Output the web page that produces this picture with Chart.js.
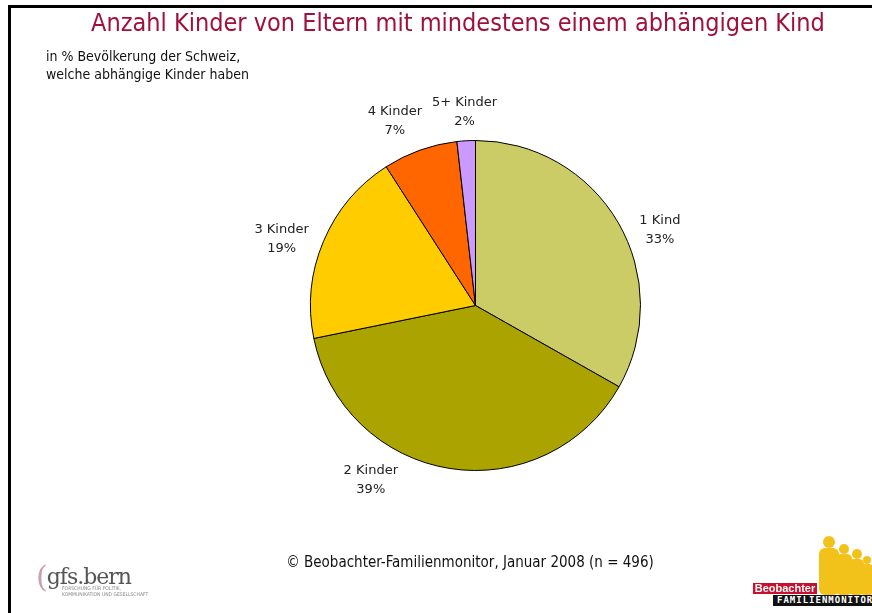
<!DOCTYPE html>
<html>
<head>
<meta charset="utf-8">
<script src="https://cdn.jsdelivr.net/npm/chart.js@4.4.1/dist/chart.umd.min.js"></script>
<style>
    body { margin: 0; width: 872px; height: 613px; overflow: hidden; background: #fff;
           font-family: "Liberation Sans Narrow", "DejaVu Sans Condensed", "Liberation Sans", sans-serif; }
    #frame { position: absolute; left: 8px; top: 5px; width: 900px; height: 700px;
             border-top: 3px solid #000; border-left: 3px solid #000; }
    #chartBox { position: absolute; left: 0; top: 0; width: 872px; height: 613px; }
    .title { position: absolute; left: 0; top: 8px; width: 916px; text-align: center;
             color: #A0103C; font-size: 25px; white-space: nowrap; }
    .sub { position: absolute; left: 46px; font-size: 14px; color: #111; white-space: nowrap; }
    .foot { position: absolute; left: 0; top: 553px; width: 940px; text-align: center; font-size: 15px; color: #111; white-space: nowrap; }
    .gfs { position: absolute; left: 36px; top: 556px; font-family: "DejaVu Serif", "Liberation Serif", serif;
           font-size: 22px; color: #555; letter-spacing: -1px; }
    .gfs .paren { color: #c9a0b0; font-size: 30px; position: relative; top: 3px; }
    .gfs-small { position: absolute; left: 62px; top: 585px; font-size: 5px; color: #888; line-height: 6px; }
    .beo { position: absolute; left: 753px; top: 583px; width: 64px; height: 11px; background: #c8102e;
           color: #fff; font: bold 11px "Liberation Sans", sans-serif; line-height: 11px; text-align: center; }
    .fm { position: absolute; left: 773px; top: 595px; width: 100px; height: 11px; background: #111;
          color: #fff; font: bold 9px "DejaVu Sans Mono", monospace; line-height: 11px; letter-spacing: 1px; padding-left: 4px; }
</style>
</head>
<body>
<div id="frame"></div>
<div id="chartBox"><canvas id="pieChart"></canvas></div>
<div class="title">Anzahl Kinder von Eltern mit mindestens einem abhängigen Kind</div>
<div class="sub" style="top:48px">in % Bevölkerung der Schweiz,</div>
<div class="sub" style="top:66px">welche abhängige Kinder haben</div>
<div class="foot">© Beobachter-Familienmonitor, Januar 2008 (n = 496)</div>
<div class="gfs"><span class="paren">(</span>gfs.bern</div>
<div class="gfs-small">FORSCHUNG FÜR POLITIK,<br>KOMMUNIKATION UND GESELLSCHAFT</div>
<svg style="position:absolute;left:815px;top:535px" width="58" height="60">
    <g fill="#f2c21a">
        <circle cx="14" cy="7" r="6"/><rect x="4" y="13" width="20" height="47" rx="6"/>
        <circle cx="29" cy="14" r="5"/><rect x="21" y="19" width="16" height="41" rx="5"/>
        <circle cx="42" cy="19" r="5"/><rect x="34" y="24" width="15" height="36" rx="5"/>
        <circle cx="52" cy="25" r="4"/><rect x="46" y="29" width="12" height="31" rx="4"/>
    </g>
</svg>
<div class="beo">Beobachter</div>
<div class="fm">FAMILIENMONITOR</div>

<script>
const categories = ['1 Kind', '2 Kinder', '3 Kinder', '4 Kinder', '5+ Kinder'];
const values = [33.2, 38.6, 19.1, 7.3, 1.8];
const sliceColors = ['#CCCC66', '#ABA300', '#FFCC00', '#FF6600', '#CC99FF'];

// labels outside the pie, anchored on each arc's middle angle
const outsideLabels = {
    id: 'outsideLabels',
    afterDatasetsDraw(chart, args, opts) {
        const ctx = chart.ctx;
        const meta = chart.getDatasetMeta(0);
        ctx.save();
        ctx.font = opts.font;
        ctx.fillStyle = opts.color;
        ctx.textAlign = 'center';
        ctx.textBaseline = 'middle';
        meta.data.forEach((arc, i) => {
            const p = arc.getProps(['x', 'y', 'startAngle', 'endAngle', 'outerRadius'], true);
            const a = (p.startAngle + p.endAngle) / 2 + (opts.nudge[i] || 0) * Math.PI / 180;
            const lines = [categories[i], Math.round(values[i]) + '%'];
            const w = Math.max(...lines.map(l => ctx.measureText(l).width));
            const h = lines.length * opts.lineHeight;
            const cos = Math.cos(a), sin = Math.sin(a);
            const r = p.outerRadius + opts.gap + Math.abs(cos) * w / 2 + Math.abs(sin) * h / 2;
            const cx = p.x + cos * r, cy = p.y + sin * r;
            lines.forEach((l, j) => ctx.fillText(l, cx, cy - h / 2 + opts.lineHeight * (j + 0.5)));
        });
        ctx.restore();
    }
};

new Chart(document.getElementById('pieChart').getContext('2d'), {
    type: 'pie',
    data: {
        labels: categories,
        datasets: [{ data: values, backgroundColor: sliceColors, borderColor: '#000', borderWidth: 1, hoverOffset: 0 }]
    },
    options: {
        responsive: true, maintainAspectRatio: false, animation: false, events: [],
        layout: { padding: { left: 310, right: 231, top: 140, bottom: 142 } },
        plugins: {
            legend: { display: false },
            tooltip: { enabled: false },
            outsideLabels: { font: '13px "DejaVu Sans", sans-serif', color: '#222', lineHeight: 19, gap: 8, nudge: [8, 22, -4, -4, 0] }
        }
    },
    plugins: [outsideLabels]
});
</script>
</body>
</html>
